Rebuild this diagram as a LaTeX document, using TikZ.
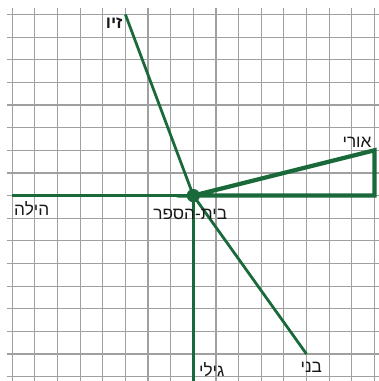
\documentclass[tikz,border=0pt]{standalone}
\usepackage{fontspec}
\setmainfont{Liberation Sans}
\newfontfamily\hebfont[Script=Hebrew]{Liberation Sans}
\TeXXeTstate=1
\usetikzlibrary{positioning}
\definecolor{RouteGreen}{HTML}{19693A}
\definecolor{GridGray}{HTML}{A0A0A0}

\begin{document}
\begin{tikzpicture}[x=0.6cm,y=0.6cm]
\tikzstyle{gridline}=[draw=GridGray,line width=0.9pt]
\tikzstyle{route}=[draw=RouteGreen,line width=2.1pt]
\tikzstyle{ride}=[draw=RouteGreen,line width=3.2pt,line join=miter]
\tikzstyle{kid}=[font=\hebfont\fontsize{13}{15}\selectfont,text=black!90,inner sep=1pt]
\tikzstyle{dot}=[circle,fill=RouteGreen,minimum size=10pt,inner sep=0pt]
\useasboundingbox (-8.54,-8.19) rectangle (8.19,8.64);
\foreach \i in {-8,...,8} {
  \draw[gridline] (\i,-8.19) -- (\i,8.28);
  \draw[gridline] (-8.25,\i) -- (8.19,\i);
}
\coordinate (school) at (0,0);
\coordinate (ziv) at (-3,8);
\coordinate (ori) at (8,2);
\coordinate (oriEnd) at (8,0);
\coordinate (beni) at (5,-7);
\coordinate (gili) at (0,-8.19);
\coordinate (hila) at (-8,0);
\draw[route] (hila) -- (school);
\draw[route] (ziv) -- (school);
\draw[route] (school) -- (beni);
\draw[route] (school) -- (gili);
\draw[ride] (school) -- (ori) -- (oriEnd) -- cycle;
\node[dot] (schoolDot) at (school) {};
\node[kid,font=\hebfont\fontsize{13}{15}\selectfont\bfseries,below left=1.5pt and 1pt of ziv] (zivName) {\beginR זיו\endR};
\node[kid,above left=1pt and 1pt of ori] (oriName) {\beginR אורי\endR};
\node[kid,below=4.8pt of beni,xshift=3.6pt] (beniName) {\beginR בני\endR};
\node[kid,above right=2.2pt and 3.1pt of gili] (giliName) {\beginR גילי\endR};
\node[kid,below right=3.5pt and 0.3pt of hila] (hilaName) {\beginR הילה\endR};
\node[kid,below=9pt of school,xshift=-2.3pt] (schoolName) {\beginR בית-הספר\endR};
\end{tikzpicture}
\end{document}
